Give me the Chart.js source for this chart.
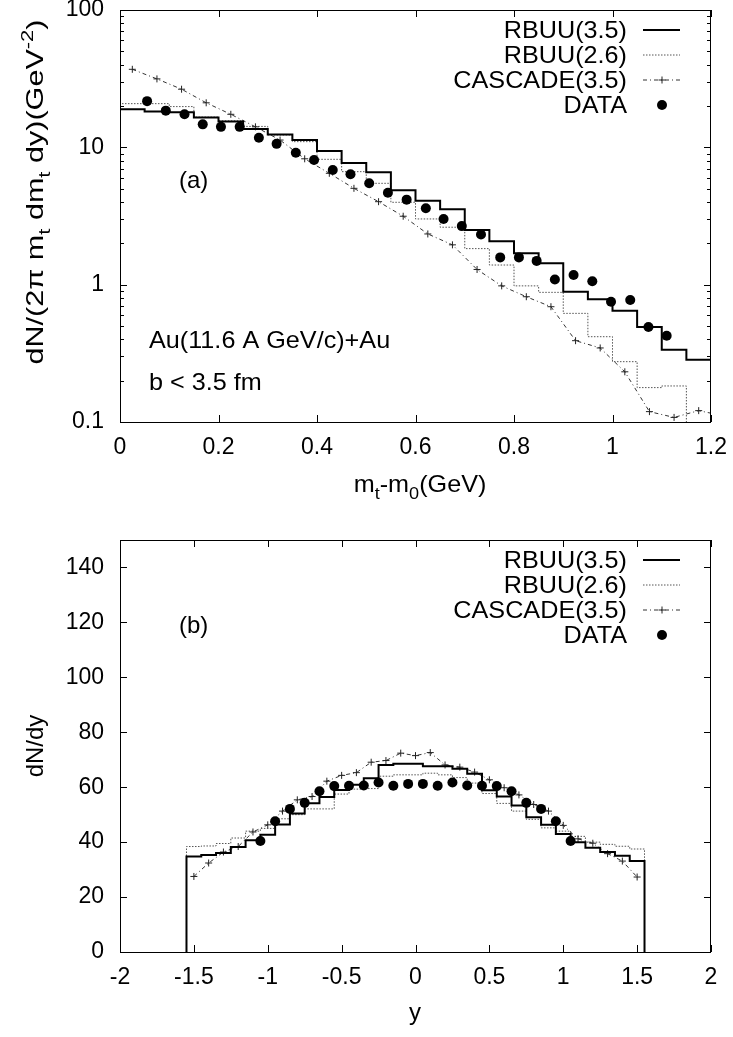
<!DOCTYPE html>
<html><head><meta charset="utf-8">
<script src="https://cdn.jsdelivr.net/npm/chart.js@4.4.1/dist/chart.umd.min.js"></script>
<style>
html,body{margin:0;padding:0;background:#fff;}
#wrap{position:relative;width:733px;height:1037px;background:#fff;}
canvas{position:absolute;left:0;}
</style></head><body>
<div id="wrap">
<canvas id="c1" width="733" height="520" style="top:0px"></canvas>
<canvas id="c2" width="733" height="517" style="top:520px"></canvas>
</div>
<script>
// ---------- Panel (a): m_t - m_0 spectra ----------
const mtEdges = [0,0.05,0.10,0.15,0.20,0.25,0.30,0.35,0.40,0.45,0.50,0.55,0.60,0.65,0.70,0.75,0.80,0.85,0.90,0.95,1.00,1.05,1.10,1.15,1.20];
const mtRbuu35 = [18.9,18.2,18.0,16.5,15.4,13.6,12.4,11.3,9.4,7.7,6.58,4.86,4.08,3.54,2.50,2.07,1.69,1.43,0.889,0.782,0.647,0.492,0.336,0.284];
const mtRbuu26 = [20.8,20.8,19.8,16.6,15.6,14.2,12.3,11.0,8.18,6.65,5.47,3.98,3.01,2.62,1.83,1.39,0.98,0.879,0.618,0.418,0.275,0.178,0.183,0.05];
const mtCascadeX = [0.025,0.075,0.125,0.175,0.225,0.275,0.325,0.375,0.425,0.475,0.525,0.575,0.625,0.675,0.725,0.775,0.825,0.875,0.925,0.975,1.025,1.075,1.125,1.175,1.225];
const mtCascadeY = [37.0,31.5,26.5,21.1,17.4,14.1,11.3,8.25,6.47,5.03,4.02,3.15,2.34,1.95,1.29,0.98,0.817,0.691,0.391,0.346,0.232,0.119,0.108,0.121,0.111];
const mtDataX = [0.055,0.093,0.131,0.168,0.205,0.243,0.282,0.318,0.357,0.394,0.432,0.468,0.506,0.544,0.582,0.621,0.657,0.694,0.733,0.772,0.810,0.846,0.883,0.921,0.959,0.997,1.036,1.073,1.110];
const mtDataY = [21.7,18.5,17.4,14.7,14.1,14.1,11.75,10.6,9.14,8.08,6.84,6.36,5.47,4.67,4.16,3.60,3.01,2.67,2.32,1.58,1.58,1.49,1.09,1.175,1.06,0.751,0.773,0.492,0.425];
const mtTicks = [0,0.2,0.4,0.6,0.8,1.0,1.2];
const mtTickLabels = ['0','0.2','0.4','0.6','0.8','1','1.2'];
const aYTicks = [0.1,1,10,100];
const aYTickLabels = ['0.1','1','10','100'];

// ---------- Panel (b): rapidity distributions ----------
const yEdges = [-1.55,-1.45,-1.35,-1.25,-1.15,-1.05,-0.95,-0.85,-0.75,-0.65,-0.55,-0.45,-0.35,-0.25,-0.15,-0.05,0.05,0.15,0.25,0.35,0.45,0.55,0.65,0.75,0.85,0.95,1.05,1.15,1.25,1.35,1.45,1.55];
const yRbuu35 = [34.8,35.3,36.0,38.2,40.7,42.7,46.4,50.4,54.2,56.4,59.0,60.9,63.3,68.1,68.5,68.5,67.6,67.6,66.7,64.9,58.9,56.6,53.3,49.1,46.3,43.0,40.0,38.0,36.4,35.0,33.1];
const yRbuu26 = [38.4,38.6,39.5,41.5,44.0,45.0,48.5,50.0,52.1,52.1,57.5,59.3,59.5,64.0,64.5,64.5,65.1,64.5,63.5,61.5,57.7,54.1,51.3,48.3,45.2,44.0,42.1,40.0,39.2,38.5,37.5];
const yCascadeX = [-1.5,-1.4,-1.3,-1.2,-1.1,-1.0,-0.9,-0.8,-0.7,-0.6,-0.5,-0.4,-0.3,-0.2,-0.1,0.0,0.1,0.2,0.3,0.4,0.5,0.6,0.7,0.8,0.9,1.0,1.1,1.2,1.3,1.4,1.5];
const yCascadeY = [27.5,32.4,36.4,38.4,43.7,46.3,51.3,55.4,56.6,62.2,64.3,65.3,69.1,69.7,72.4,71.5,72.6,68.1,67.3,65.5,62.7,59.8,57.2,53.7,51.3,46.1,41.2,39.6,35.8,33.1,27.3];
const yDataX = [-1.05,-0.95,-0.85,-0.75,-0.65,-0.55,-0.45,-0.35,-0.25,-0.15,-0.05,0.05,0.15,0.25,0.35,0.45,0.55,0.65,0.75,0.85,0.95,1.05];
const yDataY = [40.4,47.6,52.1,54.3,58.5,60.4,60.5,60.6,61.7,60.5,61.2,61.2,60.5,61.7,60.6,60.5,60.4,58.5,54.3,52.1,47.6,40.4];
const bXTicks = [-2,-1.5,-1,-0.5,0,0.5,1,1.5,2];
const bXTickLabels = ['-2','-1.5','-1','-0.5','0','0.5','1','1.5','2'];
const bYTicks = [0,20,40,60,80,100,120,140];
const bYTickLabels = ['0','20','40','60','80','100','120','140'];

const legendNames = ['RBUU(3.5)','RBUU(2.6)','CASCADE(3.5)','DATA'];

// ---------- helpers ----------
const FONT = '"Liberation Sans", Arial, Helvetica, sans-serif';
function histPoints(edges, vals, base, closeEnd){
  const pts = [{x:edges[0], y:base}];
  for (let i=0;i<vals.length;i++){ pts.push({x:edges[i],y:vals[i]}); pts.push({x:edges[i+1],y:vals[i]}); }
  if (closeEnd) pts.push({x:edges[edges.length-1], y:base});
  return pts;
}
function zip(xs, ys){ return xs.map((x,i)=>({x:x,y:ys[i]})); }

function drawRich(ctx, segs, x, y, o){
  const size = o.size||24;
  const parts = []; let w = 0;
  for (const s of segs){
    const typ = typeof s==='string' ? 'n' : s.k;
    const t = typeof s==='string' ? s : s.t;
    const sz = typ==='n' ? size : size*0.72;
    ctx.font = sz+'px '+FONT;
    const mw = ctx.measureText(t).width;
    parts.push({t,typ,sz,mw}); w += mw;
  }
  let sc = o.sx||1; if (o.fit) sc = o.fit / w;
  ctx.save(); ctx.translate(x,y); if (o.rot) ctx.rotate(-Math.PI/2); ctx.scale(sc,1);
  let cx = o.align==='right' ? -w : (o.align==='center' ? -w/2 : 0);
  ctx.textAlign='left'; ctx.textBaseline='alphabetic'; ctx.fillStyle='#000';
  for (const p of parts){
    ctx.font = p.sz+'px '+FONT;
    const dy = p.typ==='sub' ? size*0.28 : (p.typ==='sup' ? -size*0.42 : 0);
    ctx.fillText(p.t, cx, dy); cx += p.mw;
  }
  ctx.restore();
}

const STY = {
  solid:{color:'#000', width:2, dash:[]},
  dot:{color:'#555', width:1, dash:[1.5,1.5]},
  dashdot:{color:'#333', width:1, dash:[4,3,1,3]}
};

function drawLegend(ctx, top){
  for (let i=0;i<4;i++){
    const cy = top + 20 + 25*i;
    drawRich(ctx, [legendNames[i]], 627, cy+8, {size:24, align:'right', sx:1.05});
    ctx.save();
    if (i<3){
      const s = [STY.solid, STY.dot, STY.dashdot][i];
      ctx.strokeStyle=s.color; ctx.lineWidth=s.width; ctx.setLineDash(s.dash);
      ctx.beginPath(); ctx.moveTo(643,cy); ctx.lineTo(680,cy); ctx.stroke();
      if (i===2){
        ctx.setLineDash([]); ctx.strokeStyle='#222'; ctx.lineWidth=1;
        ctx.beginPath(); ctx.moveTo(658.5,cy); ctx.lineTo(665.5,cy); ctx.moveTo(662,cy-3.5); ctx.lineTo(662,cy+3.5); ctx.stroke();
      }
    } else {
      ctx.fillStyle='#000'; ctx.beginPath(); ctx.arc(662,cy,5,0,Math.PI*2); ctx.fill();
    }
    ctx.restore();
  }
}

function decorPlugin(cfg){
  return {
    id:'decor'+cfg.name,
    afterDraw(chart){
      const ctx = chart.ctx, a = chart.chartArea, xs = chart.scales.x, ys = chart.scales.y;
      ctx.save();
      ctx.strokeStyle='#000'; ctx.lineWidth=1; ctx.setLineDash([]);
      // frame
      ctx.strokeRect(a.left+0.5, a.top+0.5, a.right-a.left-1, a.bottom-a.top);
      // ticks
      ctx.beginPath();
      cfg.xTicks.forEach(v=>{
        const px = Math.round(xs.getPixelForValue(v))+0.5;
        ctx.moveTo(px,a.bottom); ctx.lineTo(px,a.bottom-7);
        ctx.moveTo(px,a.top); ctx.lineTo(px,a.top+7);
      });
      cfg.yTicks.forEach(v=>{
        const py = Math.round(ys.getPixelForValue(v))+0.5;
        ctx.moveTo(a.left,py); ctx.lineTo(a.left+7,py);
        ctx.moveTo(a.right,py); ctx.lineTo(a.right-7,py);
      });
      (cfg.yMinor||[]).forEach(v=>{
        const py = Math.round(ys.getPixelForValue(v))+0.5;
        ctx.moveTo(a.left,py); ctx.lineTo(a.left+4,py);
        ctx.moveTo(a.right,py); ctx.lineTo(a.right-4,py);
      });
      ctx.stroke();
      // tick labels
      ctx.fillStyle='#000'; ctx.font='23px '+FONT; ctx.textBaseline='middle';
      ctx.textAlign='center';
      cfg.xTicks.forEach((v,i)=>{ ctx.fillText(cfg.xLabels[i], xs.getPixelForValue(v), a.bottom+26); });
      ctx.textAlign='right';
      cfg.yTicks.forEach((v,i)=>{ ctx.fillText(cfg.yLabels[i], a.left-16, ys.getPixelForValue(v)); });
      // legend
      drawLegend(ctx, a.top);
      // texts
      cfg.texts.forEach(t=> drawRich(ctx, t.segs, t.x, t.y, t.o));
      ctx.restore();
    }
  };
}

function baseOptions(pad, xmin, xmax, ytype, ymin, ymax){
  return {
    responsive:false, animation:false, devicePixelRatio:1,
    layout:{padding:pad},
    plugins:{legend:{display:false}, tooltip:{enabled:false}},
    elements:{line:{tension:0}},
    scales:{
      x:{type:'linear', min:xmin, max:xmax, ticks:{display:false}, grid:{display:false, drawTicks:false}, border:{display:false}, afterFit:s=>{s.height=0;}},
      y:{type:ytype, min:ymin, max:ymax, ticks:{display:false}, grid:{display:false, drawTicks:false}, border:{display:false}, afterFit:s=>{s.width=0;}}
    }
  };
}

function datasets(rb35, rb26, cas, dat){
  return [
    {label:'DATA', data:dat, showLine:false, pointStyle:'circle', pointRadius:5, pointBorderWidth:0, pointBackgroundColor:'#000', pointBorderColor:'#000', order:0},
    {label:'RBUU(3.5)', data:rb35, borderColor:STY.solid.color, borderWidth:2, pointRadius:0, fill:false, order:1},
    {label:'CASCADE(3.5)', data:cas, borderColor:STY.dashdot.color, borderWidth:1, borderDash:STY.dashdot.dash, pointStyle:'cross', pointRadius:3.5, pointBorderWidth:1, pointBorderColor:'#222', fill:false, order:2},
    {label:'RBUU(2.6)', data:rb26, borderColor:STY.dot.color, borderWidth:1, borderDash:STY.dot.dash, pointRadius:0, fill:false, order:3}
  ];
}

// minor log ticks (tick marks only)
const aYMinor = [];
[0.1,1,10].forEach(d=>{ for (let k=2;k<=9;k++) aYMinor.push(d*k); });

new Chart(document.getElementById('c1'), {
  type:'line',
  data:{datasets: datasets(histPoints(mtEdges, mtRbuu35, 1, false), histPoints(mtEdges, mtRbuu26, 1, false), zip(mtCascadeX, mtCascadeY), zip(mtDataX, mtDataY))},
  options: baseOptions({left:120, top:10, right:22, bottom:98}, 0, 1.2, 'logarithmic', 0.1, 100),
  plugins:[decorPlugin({
    name:'a', xTicks:mtTicks, xLabels:mtTickLabels, yTicks:aYTicks, yLabels:aYTickLabels, yMinor:aYMinor,
    texts:[
      {segs:['(a)'], x:179, y:188, o:{size:24}},
      {segs:['Au(11.6 A GeV/c)+Au'], x:149, y:348, o:{size:24, sx:1.05}},
      {segs:['b < 3.5 fm'], x:149, y:390, o:{size:24, sx:1.05}},
      {segs:['m',{k:'sub',t:'t'},'-m',{k:'sub',t:'0'},'(GeV)'], x:420, y:492, o:{size:24, align:'center', sx:1.05}},
      {segs:['dN/(2\u03C0 m',{k:'sub',t:'t'},' dm',{k:'sub',t:'t'},' dy)(GeV',{k:'sup',t:'-2'},')'], x:43, y:192, o:{size:24, align:'center', rot:true, fit:345}}
    ]
  })]
});

new Chart(document.getElementById('c2'), {
  type:'line',
  data:{datasets: datasets(histPoints(yEdges, yRbuu35, 0, true), histPoints(yEdges, yRbuu26, 0, true), zip(yCascadeX, yCascadeY), zip(yDataX, yDataY))},
  options: baseOptions({left:120, top:20, right:22, bottom:85}, -2, 2, 'linear', 0, 150),
  plugins:[decorPlugin({
    name:'b', xTicks:bXTicks, xLabels:bXTickLabels, yTicks:bYTicks, yLabels:bYTickLabels,
    texts:[
      {segs:['(b)'], x:179, y:113, o:{size:24}},
      {segs:['y'], x:415, y:500, o:{size:24, align:'center'}},
      {segs:['dN/dy'], x:43, y:226, o:{size:24, align:'center', rot:true}}
    ]
  })]
});
</script>
</body></html>
